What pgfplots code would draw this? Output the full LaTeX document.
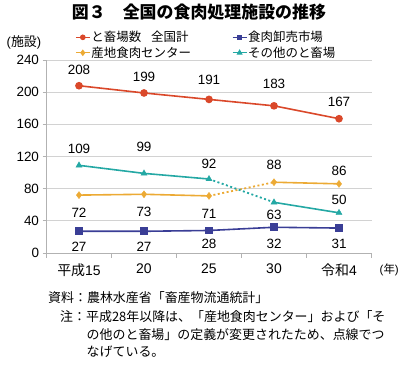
\documentclass[border=0pt]{standalone}
\usepackage{pgfplots}
\pgfplotsset{compat=1.18}
\usepackage{pgfplotstable}
\usepackage{fontspec}
\setmainfont{Liberation Sans}
\newfontfamily\cjk{Noto Sans CJK JP}
\definecolor{cred}{RGB}{218,72,42}
\definecolor{cblue}{RGB}{58,62,150}
\definecolor{corange}{RGB}{236,170,52}
\definecolor{cteal}{RGB}{36,168,164}

\pgfplotstableread{
x y dy
0 208 15.7
1 199 16.3
2 191 19.4
3 183 22.4
4 167 16.4
}\redtab
\pgfplotstableread{
x y dy
0 27 -16
1 27 -16
2 28 -13.5
3 32 -16.7
4 31 -16
}\bluetab
\pgfplotstableread{
x y dy
0 72 -17.6
1 73 -17.4
2 71 -18
3 88 17.3
4 86 13.2
}\orangetab
\pgfplotstableread{
x y dy
0 109 16
1 99 26.7
2 92 15
3 63 -12.7
4 50 12.8
}\tealtab

\begin{document}
\begin{tikzpicture}[x=1bp,y=1bp]
\useasboundingbox (0,0) rectangle (400,367);
\begin{axis}[
  at={(46.5bp,114bp)}, anchor=south west,
  scale only axis, width=325bp, height=193bp,
  xmin=-0.5, xmax=4.5, ymin=0, ymax=240,
  axis lines=left,
  axis line style={-, draw=gray!60, line width=0.8bp},
  xtick={0,1,2,3,4},
  xticklabels={{\cjk 平成}15,20,25,30,{\cjk 令和}4},
  minor xtick={-0.5,0.5,1.5,2.5,3.5,4.5},
  x tick style={draw=none},
  minor x tick style={draw=gray!60, line width=0.8bp},
  ytick={0,40,...,240},
  y tick style={draw=gray!60, line width=0.8bp},
  tick align=outside,
  major tick length=4bp, minor tick length=5bp,
  ymajorgrids, major grid style={draw=gray!35, line width=0.8bp},
  /pgf/number format/assume math mode=true,
  xticklabel style={font=\fontsize{14}{16}\selectfont, yshift=-3bp},
  yticklabel style={font=\fontsize{13.5}{15}\selectfont},
  clip=false,
  legend columns=2,
  legend cell align=left,
  legend style={at={(0.0877,1)}, anchor=south west, draw=none, fill=none,
    font=\cjk\fontsize{12.5}{13}\selectfont, inner sep=0bp,
    nodes={inner sep=1bp}, row sep=1.5bp,
    /tikz/every even column/.append style={column sep=40bp}},
  legend image code/.code={\draw[#1, mark repeat=2, mark phase=2] plot coordinates {(0bp,0bp) (7bp,0bp) (14bp,0bp)};},
  every node near coord/.append style={anchor=center, yshift=\dy bp, font=\fontsize{13.5}{15}\selectfont, text=black},
]
\addlegendimage{cred, line width=1.2bp, mark=*, mark size=2.2bp}
\addlegendentry{と畜場数\hspace{0.8em}全国計}
\addlegendimage{cblue, line width=1.2bp, mark=square*, mark size=2.2bp}
\addlegendentry{食肉卸売市場}
\addlegendimage{corange, line width=1.2bp, mark=diamond*, mark size=2.4bp}
\addlegendentry{産地食肉センター}
\addlegendimage{cteal, line width=1.2bp, mark=triangle*, mark size=2.4bp}
\addlegendentry{その他のと畜場}

% red
\addplot[cred, line width=1.6bp, mark=*, mark size=3bp, forget plot,
  nodes near coords, point meta=y,
  visualization depends on={\thisrow{dy}\as\dy}] table[x=x,y=y] {\redtab};
% blue
\addplot[cblue, line width=1.6bp, mark=square*, mark size=3bp, forget plot,
  nodes near coords, point meta=y,
  visualization depends on={\thisrow{dy}\as\dy}] table[x=x,y=y] {\bluetab};
% orange
\addplot[corange, line width=1.6bp, no marks, forget plot] coordinates {(0,72) (1,73) (2,71)};
\addplot[corange, line width=1.8bp, dash pattern=on 2bp off 2.5bp, no marks, forget plot] coordinates {(2,71) (3,88)};
\addplot[corange, line width=1.6bp, no marks, forget plot] coordinates {(3,88) (4,86)};
\addplot[corange, only marks, mark=diamond*, mark size=3.5bp, forget plot,
  nodes near coords, point meta=y,
  visualization depends on={\thisrow{dy}\as\dy}] table[x=x,y=y] {\orangetab};
% teal
\addplot[cteal, line width=1.6bp, no marks, forget plot] coordinates {(0,109) (1,99) (2,92)};
\addplot[cteal, line width=1.8bp, dash pattern=on 2bp off 2.5bp, no marks, forget plot] coordinates {(2,92) (3,63)};
\addplot[cteal, line width=1.6bp, no marks, forget plot] coordinates {(3,63) (4,50)};
\addplot[cteal, only marks, mark=triangle*, mark size=3.5bp, forget plot,
  nodes near coords, point meta=y,
  visualization depends on={\thisrow{dy}\as\dy}] table[x=x,y=y] {\tealtab};
\end{axis}

\node[font=\cjk\bfseries\fontsize{17}{20}\selectfont] at (199,355) {図３　全国の食肉処理施設の推移};
\node[font=\fontsize{13}{15}\selectfont, inner sep=0] at (24,325) {({\cjk 施設})};
\node[anchor=east, inner sep=0, font=\fontsize{11.5}{13}\selectfont] at (399,97) {({\cjk 年})};
\begin{scope}[every node/.style={anchor=west, inner sep=0, font=\cjk\fontsize{13}{15}\selectfont}]
\node at (48,69) {資料：農林水産省「畜産物流通統計」};
\node at (60,50) {注：平成28年以降は、「産地食肉センター」および「そ};
\node at (86.5,32) {の他のと畜場」の定義が変更されたため、点線でつ};
\node at (86.5,15) {なげている。};
\end{scope}
\end{tikzpicture}
\end{document}
